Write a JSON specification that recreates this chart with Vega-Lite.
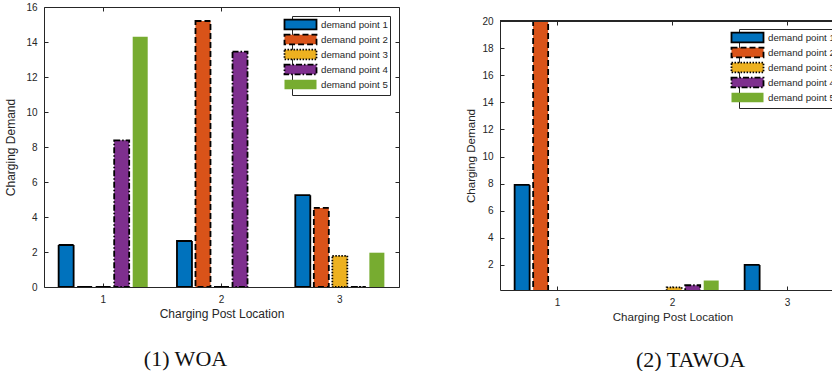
{
  "$schema": "https://vega.github.io/schema/vega-lite/v6.json",
  "background": "white",
  "padding": {"left": 4, "top": 1, "right": 0, "bottom": 0},
  "bounds": "flush",
  "spacing": 101,
  "datasets": {
    "woa": [
      {"location": 1, "series": "demand point 1", "demand": 2.4},
      {"location": 1, "series": "demand point 2", "demand": 0},
      {"location": 1, "series": "demand point 3", "demand": 0},
      {"location": 1, "series": "demand point 4", "demand": 8.38},
      {"location": 1, "series": "demand point 5", "demand": 14.3},
      {"location": 2, "series": "demand point 1", "demand": 2.63},
      {"location": 2, "series": "demand point 2", "demand": 15.2},
      {"location": 2, "series": "demand point 3", "demand": 0},
      {"location": 2, "series": "demand point 4", "demand": 13.45},
      {"location": 2, "series": "demand point 5", "demand": 0},
      {"location": 3, "series": "demand point 1", "demand": 5.25},
      {"location": 3, "series": "demand point 2", "demand": 4.52},
      {"location": 3, "series": "demand point 3", "demand": 1.78},
      {"location": 3, "series": "demand point 4", "demand": 0},
      {"location": 3, "series": "demand point 5", "demand": 1.96}
    ],
    "tawoa": [
      {"location": 1, "series": "demand point 1", "demand": 7.9},
      {"location": 1, "series": "demand point 2", "demand": 20},
      {"location": 1, "series": "demand point 3", "demand": 0},
      {"location": 1, "series": "demand point 4", "demand": 0},
      {"location": 1, "series": "demand point 5", "demand": 0},
      {"location": 2, "series": "demand point 1", "demand": 0},
      {"location": 2, "series": "demand point 2", "demand": 0},
      {"location": 2, "series": "demand point 3", "demand": 0.35},
      {"location": 2, "series": "demand point 4", "demand": 0.5},
      {"location": 2, "series": "demand point 5", "demand": 0.85},
      {"location": 3, "series": "demand point 1", "demand": 2.0},
      {"location": 3, "series": "demand point 2", "demand": 0},
      {"location": 3, "series": "demand point 3", "demand": 0},
      {"location": 3, "series": "demand point 4", "demand": 0},
      {"location": 3, "series": "demand point 5", "demand": 0}
    ]
  },
  "config": {
    "font": "Liberation Sans",
    "view": {"stroke": "#262626", "strokeWidth": 1},
    "axis": {
      "grid": false,
      "domain": false,
      "labelFont": "Liberation Sans",
      "labelFontSize": 10,
      "labelColor": "#262626",
      "titleFont": "Liberation Sans",
      "titleFontSize": 12,
      "titleFontWeight": "normal",
      "titleColor": "#262626",
      "domainColor": "#262626",
      "tickColor": "#262626",
      "tickSize": -4,
      "labelPadding": 11,
      "labelBound": false,
      "labelFlush": false,
      "labelOverlap": false
    },
    "legend": {
      "labelFont": "Liberation Sans",
      "labelFontSize": 9.7,
      "labelColor": "#262626",
      "strokeColor": "#262626",
      "fillColor": "white",
      "padding": 2,
      "rowPadding": -5.2,
      "labelOffset": 14,
      "symbolType": "M-2.91,-0.87H2.91V0.87H-2.91Z",
      "symbolSize": 121,
      "symbolStrokeWidth": 1.8,
      "symbolOpacity": 1
    }
  },
  "resolve": {
    "legend": {"color": "independent", "stroke": "independent", "strokeDash": "independent"}
  },
  "hconcat": [
    {
      "width": 355,
      "height": 280,
      "data": {"name": "woa"},
      "title": {"text": "(1) WOA", "orient": "bottom", "anchor": "middle", "frame": "group", "font": "Liberation Serif", "fontSize": 22, "fontWeight": "normal", "color": "#111111", "offset": 30, "dx": -36},
      "layer": [
        {
          "mark": {"type": "bar", "strokeWidth": 1.8, "clip": true},
          "encoding": {
            "x": {"field": "location", "type": "ordinal", "scale": {"paddingInner": 0, "paddingOuter": 0},
                  "axis": {"title": "Charging Post Location", "labelAngle": 0, "titlePadding": 4}},
            "xOffset": {"field": "series", "type": "nominal", "scale": {"paddingInner": 0.19, "paddingOuter": 0.79}},
            "y": {"field": "demand", "type": "quantitative", "scale": {"domain": [0, 16], "nice": false},
                  "axis": {"title": "Charging Demand", "values": [0, 2, 4, 6, 8, 10, 12, 14, 16], "titlePadding": 8, "labelOverlap": false}},
            "color": {"field": "series", "type": "nominal",
                      "scale": {"domain": ["demand point 1", "demand point 2", "demand point 3", "demand point 4", "demand point 5"],
                                "range": ["#0072BD", "#D95319", "#EDB120", "#7E2F8E", "#77AC30"]},
                      "legend": {"title": null, "orient": "none", "legendX": 248, "legendY": 9}},
            "stroke": {"field": "series", "type": "nominal",
                       "scale": {"domain": ["demand point 1", "demand point 2", "demand point 3", "demand point 4", "demand point 5"],
                                 "range": ["#000000", "#000000", "#000000", "#000000", "transparent"]},
                       "legend": {"title": null, "orient": "none", "legendX": 248, "legendY": 9}},
            "strokeDash": {"field": "series", "type": "nominal",
                           "scale": {"domain": ["demand point 1", "demand point 2", "demand point 3", "demand point 4", "demand point 5"],
                                     "range": [[1, 0], [6, 3], [1.5, 1.5], [6, 2, 1.5, 2], [1, 0]]},
                           "legend": {"title": null, "orient": "none", "legendX": 248, "legendY": 9}}
          }
        },
        {
          "mark": {"type": "bar", "opacity": 0},
          "encoding": {
            "x": {"field": "location", "type": "ordinal", "axis": {"orient": "top", "labels": false, "title": null}},
            "xOffset": {"field": "series", "type": "nominal"},
            "y": {"field": "demand", "type": "quantitative", "axis": {"orient": "right", "labels": false, "title": null, "values": [0, 2, 4, 6, 8, 10, 12, 14, 16]}}
          }
        }
      ],
      "resolve": {"axis": {"x": "independent", "y": "independent"}}
    },
    {
      "width": 345,
      "height": 283,
      "data": {"name": "tawoa"},
      "view": {"stroke": null},
      "title": {"text": "(2) TAWOA", "orient": "bottom", "anchor": "middle", "frame": "group", "font": "Liberation Serif", "fontSize": 22, "fontWeight": "normal", "color": "#111111", "offset": 27, "dx": 18},
      "layer": [
        {
          "mark": {"type": "bar", "strokeWidth": 1.8, "clip": true},
          "encoding": {
            "x": {"field": "location", "type": "ordinal", "scale": {"paddingInner": 0, "paddingOuter": 0},
                  "axis": {"title": "Charging Post Location", "labelAngle": 0, "titlePadding": 4, "titleFontSize": 11.6, "domain": true}},
            "xOffset": {"field": "series", "type": "nominal", "scale": {"paddingInner": 0.19, "paddingOuter": 0.79}},
            "y": {"field": "demand", "type": "quantitative", "scale": {"domain": [0.15, 20], "range": [283, 14], "nice": false, "zero": false},
                  "axis": {"title": "Charging Demand", "values": [2, 4, 6, 8, 10, 12, 14, 16, 18, 20], "titlePadding": 5, "titleFontSize": 11.6, "domain": true, "labelOverlap": false}},
            "color": {"field": "series", "type": "nominal",
                      "scale": {"domain": ["demand point 1", "demand point 2", "demand point 3", "demand point 4", "demand point 5"],
                                "range": ["#0072BD", "#D95319", "#EDB120", "#7E2F8E", "#77AC30"]},
                      "legend": {"title": null, "orient": "none", "legendX": 239, "legendY": 22}},
            "stroke": {"field": "series", "type": "nominal",
                       "scale": {"domain": ["demand point 1", "demand point 2", "demand point 3", "demand point 4", "demand point 5"],
                                 "range": ["#000000", "#000000", "#000000", "#000000", "transparent"]},
                       "legend": {"title": null, "orient": "none", "legendX": 239, "legendY": 22}},
            "strokeDash": {"field": "series", "type": "nominal",
                           "scale": {"domain": ["demand point 1", "demand point 2", "demand point 3", "demand point 4", "demand point 5"],
                                     "range": [[1, 0], [6, 3], [1.5, 1.5], [6, 2, 1.5, 2], [1, 0]]},
                           "legend": {"title": null, "orient": "none", "legendX": 239, "legendY": 22}}
          }
        },
        {
          "mark": {"type": "bar", "opacity": 0},
          "encoding": {
            "x": {"field": "location", "type": "ordinal", "axis": {"orient": "top", "labels": false, "title": null, "offset": -14}},
            "xOffset": {"field": "series", "type": "nominal"}
          }
        },
        {
          "mark": {"type": "rule", "color": "#262626", "strokeWidth": 1},
          "encoding": {
            "y": {"datum": 20, "type": "quantitative", "axis": null}
          }
        }
      ],
      "resolve": {"axis": {"x": "independent", "y": "independent"}}
    }
  ]
}
